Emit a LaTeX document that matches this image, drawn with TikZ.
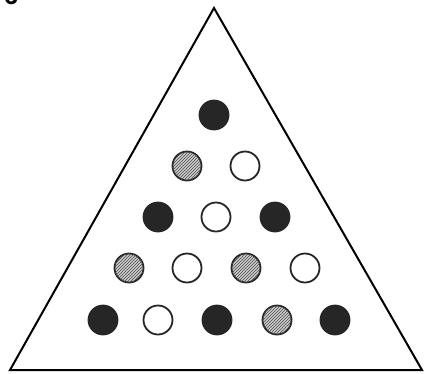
\documentclass[tikz,border=0pt]{standalone}
\usepackage{fontspec}
\setsansfont{Liberation Sans}
\usetikzlibrary{patterns}
\tikzset{
  dot/.style={circle,minimum size=29pt,inner sep=0pt,line width=1.8pt,draw=black!85},
  blackdot/.style={dot,fill=black!85},
  whitedot/.style={dot,fill=white},
  hatchdot/.style={dot,fill=black!20,postaction={pattern=north east lines,pattern color=black!70}}
}
\begin{document}
\begin{tikzpicture}[x=1pt,y=-1pt]
\useasboundingbox (0,0) rectangle (426,373);
\fill[white] (0,0) rectangle (426,373);
\node[font=\sffamily\bfseries\fontsize{26}{26}\selectfont,anchor=south] (fignum) at (11,8) {6};

\draw[line width=2pt,line join=miter] (214,8) -- (10,370) -- (422,370) -- cycle;

% row 1
\node[blackdot] (a1) at (214,115) {};
% row 2
\node[hatchdot] (b1) at (187,166) {};
\node[whitedot] (b2) at (245,166) {};
% row 3
\node[blackdot] (c1) at (158,217) {};
\node[whitedot] (c2) at (216,217) {};
\node[blackdot] (c3) at (275,217) {};
% row 4
\node[hatchdot] (d1) at (129,268) {};
\node[whitedot] (d2) at (187,268) {};
\node[hatchdot] (d3) at (246,268) {};
\node[whitedot] (d4) at (305,268) {};
% row 5
\node[blackdot] (e1) at (103,320) {};
\node[whitedot] (e2) at (158,320) {};
\node[blackdot] (e3) at (217,320) {};
\node[hatchdot] (e4) at (277,320) {};
\node[blackdot] (e5) at (335,320) {};
\end{tikzpicture}
\end{document}
